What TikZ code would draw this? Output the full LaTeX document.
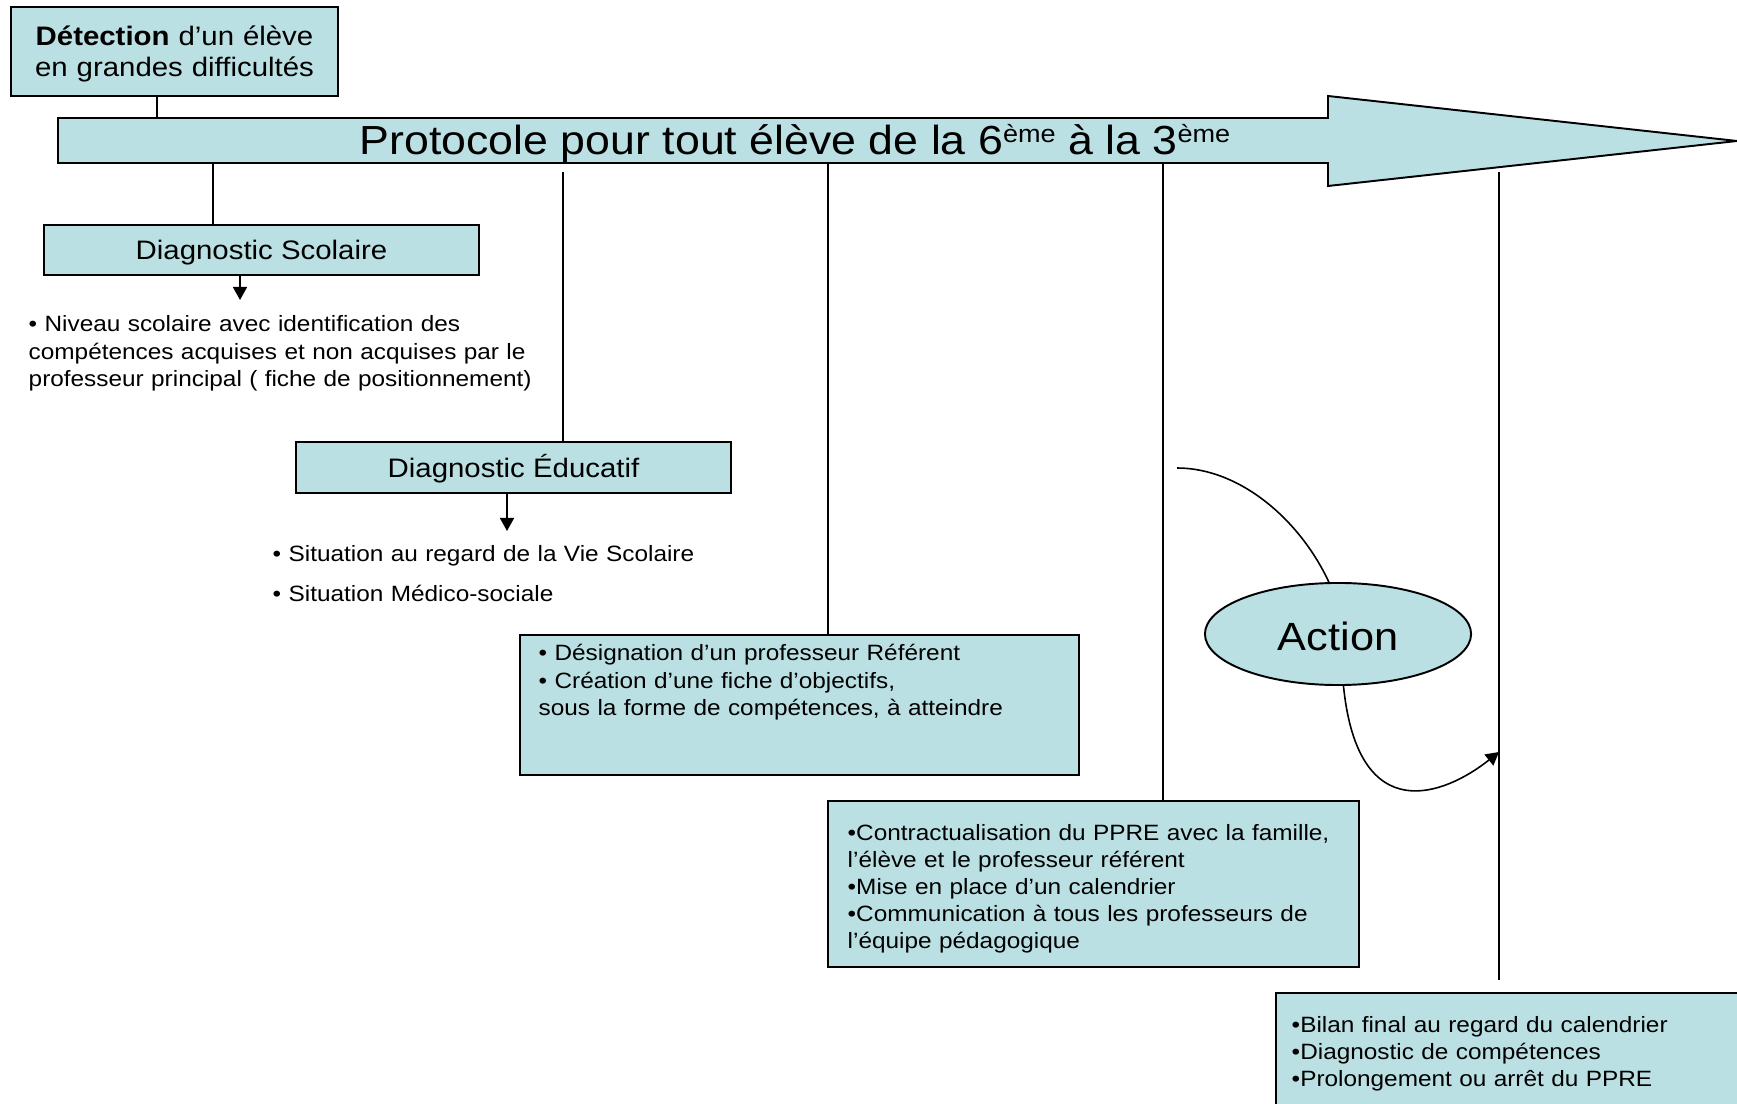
\documentclass[tikz,border=0pt]{standalone}
\usepackage{fontspec}
\setmainfont{Liberation Sans}[FakeStretch=1.1]
\usepackage{tikz}
\usetikzlibrary{shapes,arrows.meta,positioning}
\usepackage{xcolor}
\definecolor{pptcyan}{RGB}{187,224,227}
\newcommand\exposant[1]{\raisebox{0.3em}{\fontsize{7pt}{7.5pt}\selectfont #1}}

\begin{document}
\begin{tikzpicture}[
    x=0.01cm, y=-0.01cm,
    box/.style={rectangle, draw, fill=pptcyan, line width=0.55pt, inner sep=0pt, align=center, font=\fontsize{7.6pt}{8.8pt}\selectfont},
    label/.style={text height=0.2cm, text depth=0pt},
    list/.style={inner sep=0pt, anchor=base west, align=left, font=\fontsize{6.3pt}{7.7pt}\selectfont},
    link/.style={line width=0.45pt},
    arr/.style={line width=0.45pt, -{Triangle[length=0.13cm, width=0.14cm]}},
]
    \useasboundingbox (0,0) rectangle (1737,1104);

    % big arrow
    \draw[fill=pptcyan, line width=0.55pt] (58,118) -- (1328,118) -- (1328,96) -- (1737,141) -- (1328,186) -- (1328,163) -- (58,163) -- cycle;
    \node[inner sep=0pt, anchor=base, font=\fontsize{11.55pt}{12pt}\selectfont] (proto) at (795,155) {Protocole pour tout élève de la 6\exposant{ème} à la 3\exposant{ème}};

    \node[box, text width=3.1cm, text height=0.19cm, text depth=0.30cm, minimum width=3.27cm, minimum height=0.89cm] (det) at (174.5,51.5) {\textbf{Détection} d’un élève\\en grandes difficultés};
    \node[box, label, minimum width=4.35cm, minimum height=0.50cm] (diagS) at (261.5,250) {Diagnostic Scolaire};
    \node[box, label, minimum width=4.35cm, minimum height=0.51cm] (diagE) at (513.5,467.5) {Diagnostic Éducatif};
    \node[box, minimum width=5.59cm, minimum height=1.40cm] (ref) at (799.5,705) {};
    \node[box, minimum width=5.31cm, minimum height=1.66cm] (ppre) at (1093.5,884) {};
    \node[box, minimum width=4.84cm, minimum height=1.27cm] (bil) at (1518,1056.5) {};
    \node[box, ellipse, text height=0.32cm, text depth=0pt, minimum width=2.66cm, minimum height=1.02cm, font=\fontsize{11.2pt}{12pt}\selectfont] (act) at (1338,634) {Action};

    % texts
    \node[list, text width=5.3cm] (niv) at (28,332) {• Niveau scolaire avec identification des\\compétences acquises et non acquises par le\\professeur principal ( fiche de positionnement)};
    \node[list, text width=4.6cm] (sit) at (272,562) {• Situation au regard de la Vie Scolaire\\[3.5pt]• Situation Médico-sociale};
    \node[list, text width=5.3cm] (refT) at (538,661) {• Désignation d’un professeur Référent\\• Création d’une fiche d’objectifs,\\sous la forme de compétences, à atteindre};
    \node[list, text width=5.1cm] (ppreT) at (847,840) {•Contractualisation du PPRE avec la famille,\\l’élève et le professeur référent\\•Mise en place d’un calendrier\\•Communication à tous les professeurs de\\l’équipe pédagogique};
    \node[list, text width=4.6cm] (bilT) at (1291,1032) {•Bilan final au regard du calendrier\\•Diagnostic de compétences\\•Prolongement ou arrêt du PPRE};

    % links
    \coordinate (a0) at (157,119);
    \coordinate (t1) at (213,163);
    \coordinate (t2) at (563,172);
    \coordinate (t3) at (828,162);
    \coordinate (t4) at (1163,163);
    \coordinate (t5) at (1499,172);
    \coordinate (e5) at (1499,980);
    \draw[link] (a0 |- det.south) -- (a0);
    \draw[link] (t1) -- (t1 |- diagS.north);
    \draw[link] (t2) -- (t2 |- diagE.north);
    \draw[link] (t3) -- (t3 |- ref.north);
    \draw[link] (t4) -- (t4 |- ppre.north);
    \draw[link] (t5) -- (e5);

    \coordinate (d1) at (240,300);
    \coordinate (d2) at (507,531);
    \draw[arr] (d1 |- diagS.south) -- (d1);
    \draw[arr] (d2 |- diagE.south) -- (d2);

    \coordinate (c0) at (1177,468);
    \coordinate (c1) at (1499,752);
    \draw[link] (c0) .. controls (1240,468) and (1300,520) .. (act.100);
    \draw[arr] (act.-84) .. controls (1358,830) and (1445,795) .. (c1);
\end{tikzpicture}
\end{document}
